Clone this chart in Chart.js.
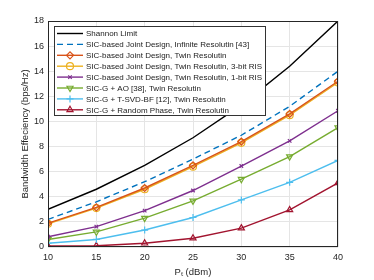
<!DOCTYPE html>
<html>
<head>
<meta charset="utf-8">
<script src="https://cdn.jsdelivr.net/npm/chart.js@4.4.1/dist/chart.umd.min.js"></script>
<style>
  html, body { margin: 0; padding: 0; background: #fff; }
  #wrap { width: 374px; height: 280px; }
</style>
</head>
<body>
<div id="wrap"><canvas id="c" width="374" height="280"></canvas></div>
<script>
const power = [10, 15, 20, 25, 30, 35, 40];
const shannon = [3.0, 4.6, 6.5, 8.7, 11.3, 14.4, 18.0];
const infiniteRes = [2.2, 3.6, 5.2, 7.0, 8.9, 11.2, 14.0];
const twinRes = [1.9, 3.15, 4.7, 6.5, 8.4, 10.6, 13.2];
const twin3bit = [1.85, 3.1, 4.6, 6.4, 8.3, 10.5, 13.1];
const twin1bit = [0.82, 1.62, 2.9, 4.5, 6.45, 8.45, 10.85];
const sicAO = [0.6, 1.2, 2.3, 3.67, 5.4, 7.2, 9.5];
const sicTSVD = [0.3, 0.6, 1.35, 2.35, 3.75, 5.15, 6.9];
const sicRandom = [0.08, 0.1, 0.3, 0.7, 1.5, 2.95, 5.1];
const yTicks = [0, 2, 4, 6, 8, 10, 12, 14, 16, 18];

const FONT = "'Liberation Sans', Arial, sans-serif";

function ds(label, data, color, style, extra) {
  return Object.assign({
    label: label,
    data: power.map((p, i) => ({ x: p, y: data[i] })),
    borderColor: color,
    backgroundColor: "rgba(0,0,0,0)",
    pointBorderColor: color,
    pointBackgroundColor: "rgba(0,0,0,0)",
    borderWidth: 1.4,
    pointStyle: style,
    pointRadius: style ? 3.5 : 0,
    pointBorderWidth: 1.2,
    tension: 0
  }, extra || {});
}

const datasets = [
  ds("Shannon Limit", shannon, "#000000", false),
  ds("SIC-based Joint Design, Infinite Resolutin [43]", infiniteRes, "#0072BD", false, { borderDash: [6, 4] }),
  ds("SIC-based Joint Design, Twin Resolutin", twinRes, "#D95319", "rectRot"),
  ds("SIC-based Joint Design, Twin Resolutin, 3-bit RIS", twin3bit, "#EDB120", "circle"),
  ds("SIC-based Joint Design, Twin Resolutin, 1-bit RIS", twin1bit, "#7E2F8E", "crossRot", { pointRadius: 2.5 }),
  ds("SIC-G + AO [38], Twin Resolutin", sicAO, "#77AC30", "triangle", { pointRotation: 180 }),
  ds("SIC-G + T-SVD-BF [12], Twin Resolutin", sicTSVD, "#4DBEEE", "cross"),
  ds("SIC-G + Random Phase, Twin Resolutin", sicRandom, "#A2142F", "triangle")
];

const boxLegend = {
  id: "boxLegend",
  afterDraw(chart) {
    const c = chart.ctx;
    const x0 = 54.5, y0 = 26.5, w = 211, h = 89, row = 10.9;
    c.save();
    c.fillStyle = "#fff";
    c.fillRect(x0, y0, w, h);
    c.strokeStyle = "#333";
    c.lineWidth = 1;
    c.strokeRect(x0, y0, w, h);
    c.font = "8px " + FONT;
    c.textBaseline = "middle";
    chart.data.datasets.forEach((d, i) => {
      const y = y0 + 7 + i * row;
      c.strokeStyle = d.borderColor;
      c.lineWidth = 1.4;
      c.setLineDash(d.borderDash || []);
      c.beginPath();
      c.moveTo(57, y);
      c.lineTo(83, y);
      c.stroke();
      c.setLineDash([]);
      if (d.pointStyle) {
        c.fillStyle = "rgba(0,0,0,0)";
        c.strokeStyle = d.borderColor;
        c.lineWidth = 1.2;
        Chart.helpers.drawPoint(c, {
          pointStyle: d.pointStyle,
          rotation: d.pointRotation || 0,
          radius: d.pointRadius,
          borderWidth: 1.2
        }, 70, y);
      }
      c.fillStyle = "#222";
      c.fillText(d.label, 86, y + 0.5);
    });
    c.restore();
  }
};

const frame = {
  id: "frame",
  afterDatasetsDraw(chart) {
    const a = chart.chartArea, c = chart.ctx;
    c.save();
    c.strokeStyle = "#262626";
    c.lineWidth = 1;
    c.strokeRect(a.left + 0.5, a.top + 0.5, a.right - a.left - 1, a.bottom - a.top - 1);
    c.restore();
  }
};

new Chart(document.getElementById("c").getContext("2d"), {
  type: "line",
  data: { datasets: datasets },
  options: {
    responsive: false,
    animation: false,
    layout: { padding: { left: 20, right: 36, top: 21, bottom: 2 } },
    plugins: { legend: { display: false }, tooltip: { enabled: false } },
    scales: {
      x: {
        type: "linear",
        min: 10, max: 40,
        afterBuildTicks: (s) => { s.ticks = power.map(v => ({ value: v })); },
        grid: { color: "#e5e5e5", drawTicks: false },
        border: { display: false },
        ticks: { color: "#262626", font: { family: FONT, size: 9 }, padding: 5, maxRotation: 0 },
        title: { display: true, text: "P\u209C (dBm)", color: "#262626", font: { family: FONT, size: 9.5 }, padding: { top: 1, bottom: 0 } },
        afterFit: (s) => { s.height = 31; }
      },
      y: {
        min: 0, max: 18,
        afterBuildTicks: (s) => { s.ticks = yTicks.map(v => ({ value: v })); },
        grid: { color: "#e5e5e5", drawTicks: false },
        border: { display: false },
        ticks: { color: "#262626", font: { family: FONT, size: 9 }, padding: 4 },
        title: { display: true, text: "Bandwidth Effeciency (bps/Hz)", color: "#262626", font: { family: FONT, size: 9.5 }, padding: { top: 0, bottom: 4 } },
        afterFit: (s) => { s.width = 28; }
      }
    }
  },
  plugins: [frame, boxLegend]
});
</script>
</body>
</html>
